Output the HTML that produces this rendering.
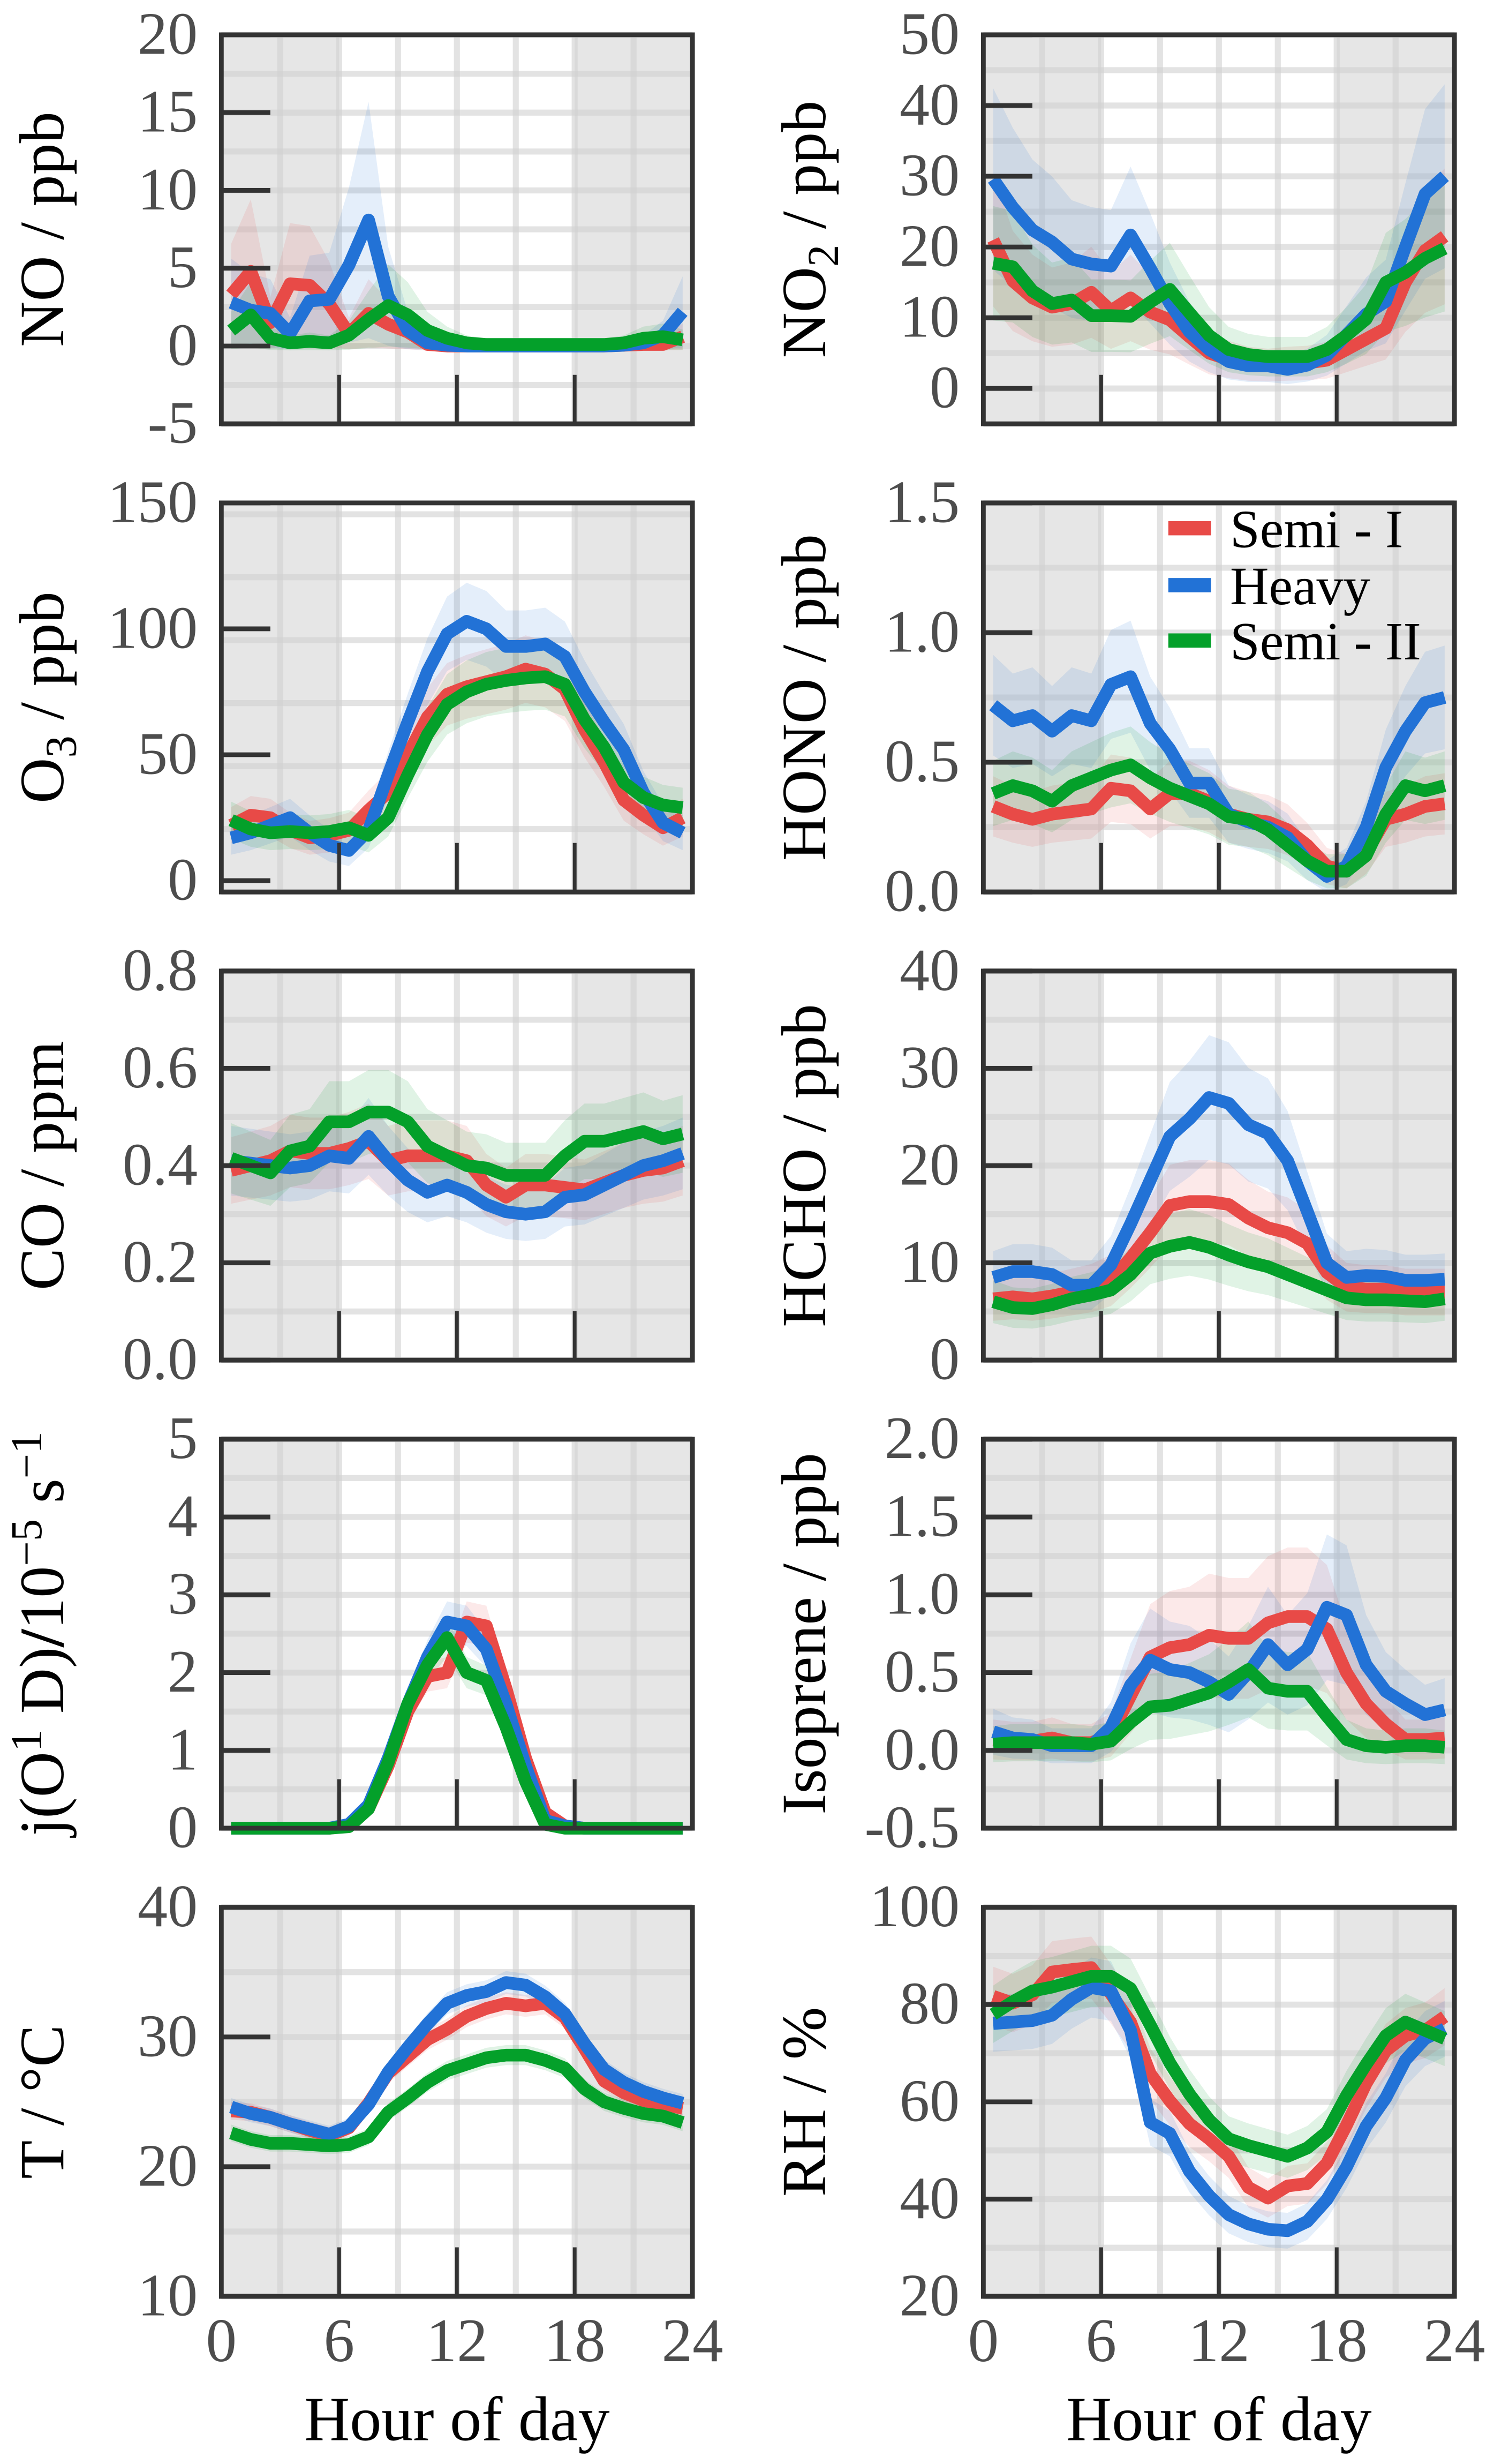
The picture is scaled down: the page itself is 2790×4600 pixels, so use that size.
<!DOCTYPE html>
<html><head><meta charset="utf-8"><style>
html,body{margin:0;padding:0;background:#fff;}
svg{display:block;font-family:"Liberation Serif","Noto Serif CJK SC","DejaVu Serif",serif;}
text{font-family:"Liberation Serif","Noto Serif CJK SC","DejaVu Serif",serif;}
</style></head>
<body>
<svg id="fig" xmlns="http://www.w3.org/2000/svg" width="2790" height="4600" viewBox="0 0 945 1558" preserveAspectRatio="none"></svg>
<script>
const hours=[0.5,1.5,2.5,3.5,4.5,5.5,6.5,7.5,8.5,9.5,10.5,11.5,12.5,13.5,14.5,15.5,16.5,17.5,18.5,19.5,20.5,21.5,22.5,23.5];
const xTicks=[0,6,12,18,24];
const seriesNames=["Semi - I","Heavy","Semi - II"];

const noRed=[3.3,4.8,1.5,4.0,3.9,2.7,0.8,2.1,1.4,0.9,0.1,0,0,0,0,0,0,0,0,0,0.05,0.1,0.1,0.6];
const noBlue=[2.8,2.3,2.1,0.8,2.9,3.0,5.2,8.1,3.2,1.0,0.2,0.05,0,0,0,0,0,0,0,0,0.05,0.2,0.7,2.2];
const noGreen=[1.0,2.0,0.5,0.2,0.3,0.2,0.7,1.7,2.6,2.0,1.0,0.5,0.2,0.1,0.1,0.1,0.1,0.1,0.1,0.1,0.2,0.5,0.6,0.4];
const noTicks=[-5,0,5,10,15,20];

const no2Red=[21,15.2,12.8,11.5,12.0,13.6,11,12.8,10.8,9.7,7.3,5,4.1,3.5,3.3,3.5,3.6,4,5.5,7,8.5,15,19.5,21.5];
const no2Blue=[29.6,25.6,22.4,20.7,18.3,17.6,17.3,21.7,17,12,8,5.5,3.8,3.2,3.2,2.7,3.3,4.7,7.6,10.5,12.3,20,27.5,30];
const no2Green=[17.7,17.2,13.8,12,12.5,10.3,10.3,10.2,12.2,14,10.7,7.5,5.5,4.8,4.5,4.5,4.5,5.5,7.5,9.8,15,16.4,18.4,19.8];
const no2Ticks=[0,10,20,30,40,50];

const o3Red=[22,26,25,20,17,18,20,28,35,50,65,74,77,79,81,84,82,76,60,47,32,26,21,25];
const o3Blue=[17,19,22,25,19,14,12,20,42,63,83,98,103,100,93,93,94,89,75,63,52,35,23,19];
const o3Green=[24,20.5,19,19.5,19,19.5,21,18,25,42,58,70,75,78,79.5,80.5,81,78,64,53,39,33,30,29];
const o3Ticks=[0,50,100,150];

const honoRed=[0.33,0.30,0.28,0.30,0.31,0.32,0.40,0.39,0.32,0.38,0.38,0.35,0.30,0.28,0.27,0.24,0.18,0.10,0.08,0.15,0.28,0.30,0.33,0.34];
const honoBlue=[0.72,0.66,0.68,0.62,0.68,0.66,0.80,0.83,0.65,0.55,0.42,0.42,0.30,0.27,0.25,0.21,0.12,0.06,0.10,0.25,0.48,0.62,0.73,0.75];
const honoGreen=[0.38,0.41,0.39,0.35,0.41,0.44,0.47,0.49,0.44,0.40,0.37,0.34,0.29,0.28,0.24,0.18,0.12,0.08,0.08,0.14,0.30,0.41,0.39,0.41];
const honoTicks=[0.0,0.5,1.0,1.5];

const coRed=[0.39,0.40,0.41,0.43,0.425,0.425,0.435,0.45,0.41,0.42,0.42,0.42,0.41,0.36,0.335,0.36,0.36,0.355,0.35,0.365,0.38,0.39,0.395,0.41];
const coBlue=[0.41,0.405,0.40,0.395,0.40,0.42,0.415,0.46,0.41,0.37,0.345,0.36,0.345,0.32,0.305,0.30,0.305,0.335,0.34,0.36,0.38,0.40,0.41,0.425];
const coGreen=[0.415,0.40,0.385,0.43,0.44,0.49,0.49,0.51,0.51,0.49,0.44,0.42,0.40,0.395,0.38,0.38,0.38,0.42,0.45,0.45,0.46,0.47,0.455,0.465];
const coTicks=[0.0,0.2,0.4,0.6,0.8];

const hchoRed=[6.3,6.5,6.3,6.6,7,7.4,8.2,10.5,13.1,15.9,16.3,16.3,16,14.6,13.6,13.1,12,9,7.5,7.3,7.3,7.0,7.0,7.0];
const hchoBlue=[8.5,9.1,9.1,8.8,7.7,7.7,9.8,14,18.5,23,24.8,27,26.4,24.2,23.3,20.5,15.3,10,8.5,8.7,8.6,8.2,8.2,8.3];
const hchoGreen=[6,5.4,5.3,5.7,6.3,6.7,7.2,8.8,11,11.7,12.1,11.6,10.8,10.1,9.6,8.8,8,7.2,6.4,6.2,6.2,6.1,6.0,6.3];
const hchoTicks=[0,10,20,30,40];

const jRed=[0,0,0,0,0,0,0.03,0.25,0.8,1.5,1.95,2.0,2.65,2.6,1.8,0.9,0.2,0.03,0,0,0,0,0,0];
const jBlue=[0,0,0,0,0,0,0.05,0.3,0.9,1.6,2.2,2.65,2.6,2.3,1.6,0.8,0.1,0.03,0,0,0,0,0,0];
const jGreen=[0,0,0,0,0,0,0.02,0.25,0.85,1.6,2.1,2.45,2.0,1.9,1.3,0.6,0.05,0,0,0,0,0,0,0];
const jTicks=[0,1,2,3,4,5];

const isoRed=[0.07,0.06,0.06,0.08,0.05,0.05,0.1,0.35,0.6,0.66,0.68,0.74,0.72,0.72,0.82,0.86,0.86,0.78,0.5,0.3,0.17,0.07,0.07,0.08];
const isoBlue=[0.12,0.08,0.07,0.03,0.03,0.03,0.15,0.42,0.58,0.52,0.5,0.44,0.36,0.5,0.68,0.55,0.65,0.92,0.87,0.55,0.38,0.3,0.23,0.26];
const isoGreen=[0.04,0.05,0.05,0.05,0.05,0.04,0.06,0.18,0.28,0.29,0.33,0.37,0.44,0.52,0.4,0.38,0.38,0.22,0.07,0.03,0.02,0.03,0.03,0.02];
const isoTicks=[-0.5,0.0,0.5,1.0,1.5,2.0];

const tRed=[24.3,24.2,23.8,23.3,22.8,22.4,23.0,24.9,27.2,28.5,29.8,30.6,31.6,32.2,32.6,32.4,32.6,31.5,29.1,26.6,25.7,25.1,24.8,24.5];
const tBlue=[24.6,24.1,23.8,23.3,22.9,22.5,23.1,24.8,27.3,29.2,31,32.6,33.2,33.5,34.2,34.0,33.1,31.8,29.5,27.5,26.5,25.8,25.3,24.9];
const tGreen=[22.6,22.1,21.8,21.8,21.7,21.6,21.7,22.3,24.2,25.3,26.5,27.4,27.9,28.4,28.6,28.6,28.2,27.6,26.0,25.0,24.5,24.1,23.9,23.4];
const tTicks=[10,20,30,40];

const rhRed=[81.7,80.3,82,86.7,87.2,87.6,82.2,76.4,65.8,60.2,55.5,52.4,48.8,42.4,40.2,42.7,43.2,47.4,55.2,63.8,70.5,73.6,74.7,77.5];
const rhBlue=[76.1,76.4,76.7,77.8,81.1,83.5,82.8,74.7,55.8,53.5,45.7,40.7,36.8,34.9,33.8,33.5,35.4,39.9,46.6,55,60.8,68.6,73.0,75];
const rhGreen=[78,80.6,82.8,83.6,84.7,85.8,85.8,83.3,75.8,68,61.6,56.3,52.4,51,49.9,48.8,50.5,53.8,61.3,67.7,73.6,76.4,74.7,73];
const rhTicks=[20,40,60,80,100];

const NS="http://www.w3.org/2000/svg";
const svg=document.getElementById('fig');
const COLORS=["#e84a47","#2272d6","#04a02a"];
function mk(tag,attrs,parent){const e=document.createElementNS(NS,tag);for(const k in attrs)e.setAttribute(k,attrs[k]);(parent||svg).appendChild(e);return e;}

const COLX=[140,622],W=298,ROWY=[22,318,614,910,1206],H=246;

function panel(o){
  const x0=COLX[o.col],y0=ROWY[o.row];
  const g=mk('g',{});
  
  
  const xs=h=>x0+h/24*W;
  const ys=v=>y0+H-(v-o.min)/(o.max-o.min)*H;
  const bg=mk('rect',{x:x0,y:y0,width:W,height:H,fill:'#ffffff'},g);
  
  
  [[0,6],[18,24]].forEach(r=>{
    const n=mk('rect',{x:xs(r[0]),y:y0,width:xs(r[1])-xs(r[0]),height:H,fill:'#e6e6e6'},g);
    
    
  });
  const step=(o.ticks[1]-o.ticks[0])/2;
  for(let v=o.min;v<=o.max+1e-9;v+=step){
    const gl=mk('line',{x1:x0,x2:x0+W,y1:ys(v),y2:ys(v),stroke:'#d0d0d0','stroke-opacity':0.6,'stroke-width':3.8},g);
    
    
  }
  for(let h=3;h<24;h+=3){
    const gl=mk('line',{x1:xs(h),x2:xs(h),y1:y0,y2:y0+H,stroke:'#d0d0d0','stroke-opacity':0.6,'stroke-width':3.8},g);
    
    
  }
  o.series.forEach((s,i)=>{
    const hw=s.map(v=>o.rel*Math.abs(v)+o.abs);
    let d='M'+hours.map((h,k)=>xs(h)+','+ys(s[k]+hw[k])).join('L');
    d+='L'+hours.slice().reverse().map((h,k)=>{const j=hours.length-1-k;return xs(h)+','+ys(s[j]-hw[j]);}).join('L')+'Z';
    const b=mk('path',{d:d,fill:COLORS[i],'fill-opacity':0.12,stroke:'none'},g);
    
    
  });
  [0,1,2].forEach(i=>{
    const s=o.series[i];
    const p=mk('polyline',{points:hours.map((h,k)=>xs(h)+','+ys(s[k])).join(' '),fill:'none',stroke:COLORS[i],'stroke-width':8,'stroke-linejoin':'round'},g);
    
    
  });
  const fr=mk('rect',{x:x0,y:y0,width:W,height:H,fill:'none',stroke:'#333','stroke-width':3},g);
  
  
  o.ticks.forEach(v=>{
    const tk=mk('line',{x1:x0,x2:x0+31,y1:ys(v),y2:ys(v),stroke:'#333','stroke-width':3},g);
    
    
    const t=mk('text',{x:x0-15,y:ys(v)+12,'text-anchor':'end','font-size':38,fill:'#4d4d4d'},g);
    t.textContent=o.fmt?v.toFixed(1):String(v);
    
    
  });
  xTicks.forEach(h=>{
    const tk=mk('line',{x1:xs(h),x2:xs(h),y1:y0+H,y2:y0+H-31,stroke:'#333','stroke-width':2.4},g);
    
    
    if(o.row===4){
      const t=mk('text',{x:xs(h),y:1493,'text-anchor':'middle','font-size':39,fill:'#4d4d4d'},g);
      t.textContent=String(h);
      
      
    }
  });
  const tx=o.col===0?40:522, ty=y0+H/2;
  const tt=mk('text',{x:tx,y:ty,'text-anchor':'middle','font-size':40,fill:'#000',transform:'rotate(-90 '+tx+' '+ty+')'},g);
  tt.innerHTML=o.title;
  
  
  if(o.row===4){
    const xt=mk('text',{x:x0+W/2,y:1543,'text-anchor':'middle','font-size':40,fill:'#000'},g);
    xt.textContent='Hour of day';
    
    
  }
}

panel({name:'no',col:0,row:0,min:-5,max:20,ticks:noTicks,series:[noRed,noBlue,noGreen],rel:0.9,abs:0.3,title:'NO / ppb'});
panel({name:'no2',col:1,row:0,min:-5,max:50,ticks:no2Ticks,series:[no2Red,no2Blue,no2Green],rel:0.4,abs:1,title:'NO<tspan font-size="28" dy="8">2</tspan><tspan dy="-8"> / ppb</tspan>'});
panel({name:'o3',col:0,row:1,min:-4.5,max:150,ticks:o3Ticks,series:[o3Red,o3Blue,o3Green],rel:0.1,abs:5,title:'O<tspan font-size="28" dy="8">3</tspan><tspan dy="-8"> / ppb</tspan>'});
panel({name:'hono',col:1,row:1,min:0,max:1.5,ticks:honoTicks,series:[honoRed,honoBlue,honoGreen],rel:0.2,abs:0.05,fmt:1,title:'HONO / ppb'});
panel({name:'co',col:0,row:2,min:0,max:0.8,ticks:coTicks,series:[coRed,coBlue,coGreen],rel:0.15,abs:0.01,fmt:1,title:'CO / ppm'});
panel({name:'hcho',col:1,row:2,min:0,max:40,ticks:hchoTicks,series:[hchoRed,hchoBlue,hchoGreen],rel:0.2,abs:1,title:'HCHO / ppb'});
panel({name:'jo1d',col:0,row:3,min:0,max:5,ticks:jTicks,series:[jRed,jBlue,jGreen],rel:0.1,abs:0,title:'j(O<tspan font-size="28" dy="-14">1</tspan><tspan dy="14"> D)</tspan><tspan font-weight="bold">/</tspan>10<tspan font-size="28" dy="-14">−5</tspan><tspan dy="14"> s</tspan><tspan font-size="28" dy="-14">−1</tspan>'});
panel({name:'isoprene',col:1,row:3,min:-0.5,max:2.0,ticks:isoTicks,series:[isoRed,isoBlue,isoGreen],rel:0.4,abs:0.1,fmt:1,title:'Isoprene / ppb'});
panel({name:'temperature',col:0,row:4,min:10,max:40,ticks:tTicks,series:[tRed,tBlue,tGreen],rel:0.02,abs:0.2,title:'T / °C'});
panel({name:'rh',col:1,row:4,min:20,max:100,ticks:rhTicks,series:[rhRed,rhBlue,rhGreen],rel:0.05,abs:2,title:'RH / %'});

const lg=mk('g',{});


const legY=[334,370,405];
seriesNames.forEach((n,i)=>{
  const r=mk('rect',{x:739,y:legY[i]-4.5,width:27,height:9,fill:COLORS[i]},lg);
  
  
  const t=mk('text',{x:778,y:legY[i]+12,'font-size':34,fill:'#000'},lg);
  t.textContent=n;
  
  
});
</script>
</body></html>
